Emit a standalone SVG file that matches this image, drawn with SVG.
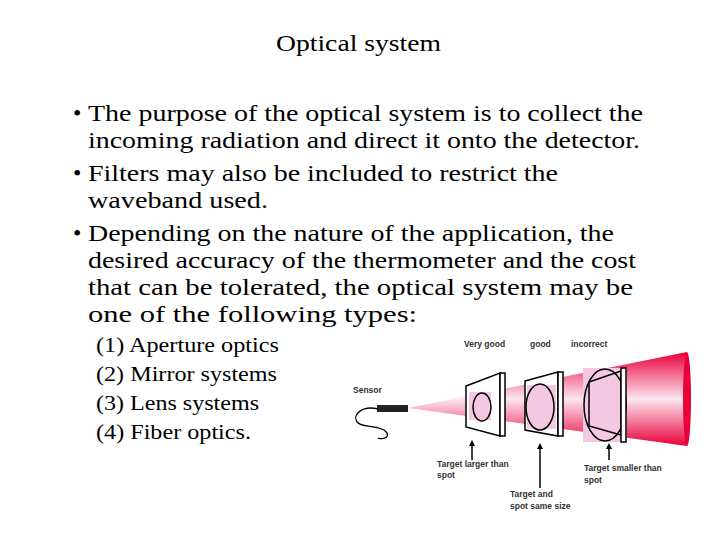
<svg xmlns="http://www.w3.org/2000/svg" width="720" height="540" viewBox="0 0 720 540">
<defs>
<linearGradient id="cone" x1="0" y1="0" x2="0" y2="1">
<stop offset="0" stop-color="#e8003a"/><stop offset="0.5" stop-color="#fde6f0"/><stop offset="1" stop-color="#e8003a"/>
</linearGradient>
<marker id="ah" viewBox="0 0 10 10" refX="5" refY="5" markerWidth="4" markerHeight="4" orient="auto"><path d="M0,0L10,5L0,10z" fill="#000"/></marker>
<style>
.t{font-family:"Liberation Serif",serif;fill:#000}
.b{font-size:24px}
.l{font-size:20px}
.s{font-family:"Liberation Sans",sans-serif;font-size:8.5px;font-weight:bold;fill:#333}
.f{fill:#fff;stroke:#000;stroke-width:1.5}
</style>
</defs>
<rect width="720" height="540" fill="#fff"/>
<text class="t" x="276" y="51" font-size="23" textLength="165" lengthAdjust="spacingAndGlyphs">Optical system</text>
<g class="t b">
<text x="73" y="121">•</text><text x="88" y="121" textLength="555" lengthAdjust="spacingAndGlyphs">The purpose of the optical system is to collect the</text>
<text x="88" y="148" textLength="552" lengthAdjust="spacingAndGlyphs">incoming radiation and direct it onto the detector.</text>
<text x="73" y="181">•</text><text x="88" y="181" textLength="470" lengthAdjust="spacingAndGlyphs">Filters may also be included to restrict the</text>
<text x="88" y="208" textLength="180" lengthAdjust="spacingAndGlyphs">waveband used.</text>
<text x="73" y="241">•</text><text x="88" y="241" textLength="526" lengthAdjust="spacingAndGlyphs">Depending on the nature of the application, the</text>
<text x="88" y="268" textLength="548" lengthAdjust="spacingAndGlyphs">desired accuracy of the thermometer and the cost</text>
<text x="88" y="295" textLength="545" lengthAdjust="spacingAndGlyphs">that can be tolerated, the optical system may be</text>
<text x="88" y="322" textLength="329" lengthAdjust="spacingAndGlyphs">one of the following types:</text>
</g>
<g class="t l">
<text x="96" y="352" textLength="183" lengthAdjust="spacingAndGlyphs">(1) Aperture optics</text>
<text x="96" y="381" textLength="181" lengthAdjust="spacingAndGlyphs">(2) Mirror systems</text>
<text x="96" y="410" textLength="163" lengthAdjust="spacingAndGlyphs">(3) Lens systems</text>
<text x="96" y="439" textLength="155" lengthAdjust="spacingAndGlyphs">(4) Fiber optics.</text>
</g>
<g id="figure">
<path d="M408,408 L687,352 L687,446 Z" fill="url(#cone)"/>
<ellipse cx="687" cy="399" rx="4" ry="47" fill="#e8003a"/>
<g id="sensor">
<path d="M378,409 C362,405 352,415 357,422 C362,428 372,424 384,430 C392,436 385,440 378,438" fill="none" stroke="#000" stroke-width="1.3"/>
<rect x="377" y="405" width="31" height="7" fill="#222"/>
</g>
<g id="frame1">
<polygon class="f" points="466,386 500,373 500,436 466,427"/>
<rect x="469" y="392" width="22" height="28" fill="#f3c8e0"/>
<ellipse cx="482" cy="407" rx="9" ry="14" fill="none" stroke="#000" stroke-width="1.5"/>
<rect class="f" x="500" y="373" width="5" height="63"/>
</g>
<g id="frame2">
<polygon class="f" points="525,381 558,372 558,436 525,430"/>
<rect x="527" y="385" width="29" height="44" fill="#f3c8e0"/>
<ellipse cx="540" cy="407" rx="14" ry="23" fill="none" stroke="#000" stroke-width="1.5"/>
<rect class="f" x="558" y="372" width="5" height="64"/>
</g>
<g id="frame3">
<rect x="583" y="368" width="44" height="74" fill="#f3c8e0"/>
<polygon points="589,382 621,371 621,435 589,426" fill="none" stroke="#000" stroke-width="1.5"/>
<ellipse cx="605" cy="405" rx="21" ry="36" fill="none" stroke="#000" stroke-width="1.5"/>
<rect class="f" x="621" y="368" width="5" height="74"/>
</g>
<text class="s" x="464" y="347">Very good</text>
<text class="s" x="530" y="347">good</text>
<text class="s" x="571" y="347">incorrect</text>
<text class="s" x="353" y="393">Sensor</text>
<text class="s" x="437" y="467">Target larger than</text><text class="s" x="437" y="478">spot</text>
<text class="s" x="510" y="497">Target and</text><text class="s" x="510" y="509">spot same size</text>
<text class="s" x="584" y="471">Target smaller than</text><text class="s" x="584" y="483">spot</text>
</g>
<g id="connectors" stroke="#000" stroke-width="1.5" fill="none" marker-end="url(#ah)">
<line x1="472" y1="460" x2="472" y2="443"/>
<line x1="540" y1="488" x2="540" y2="446"/>
<line x1="609" y1="460" x2="609" y2="446"/>
</g>
</svg>
